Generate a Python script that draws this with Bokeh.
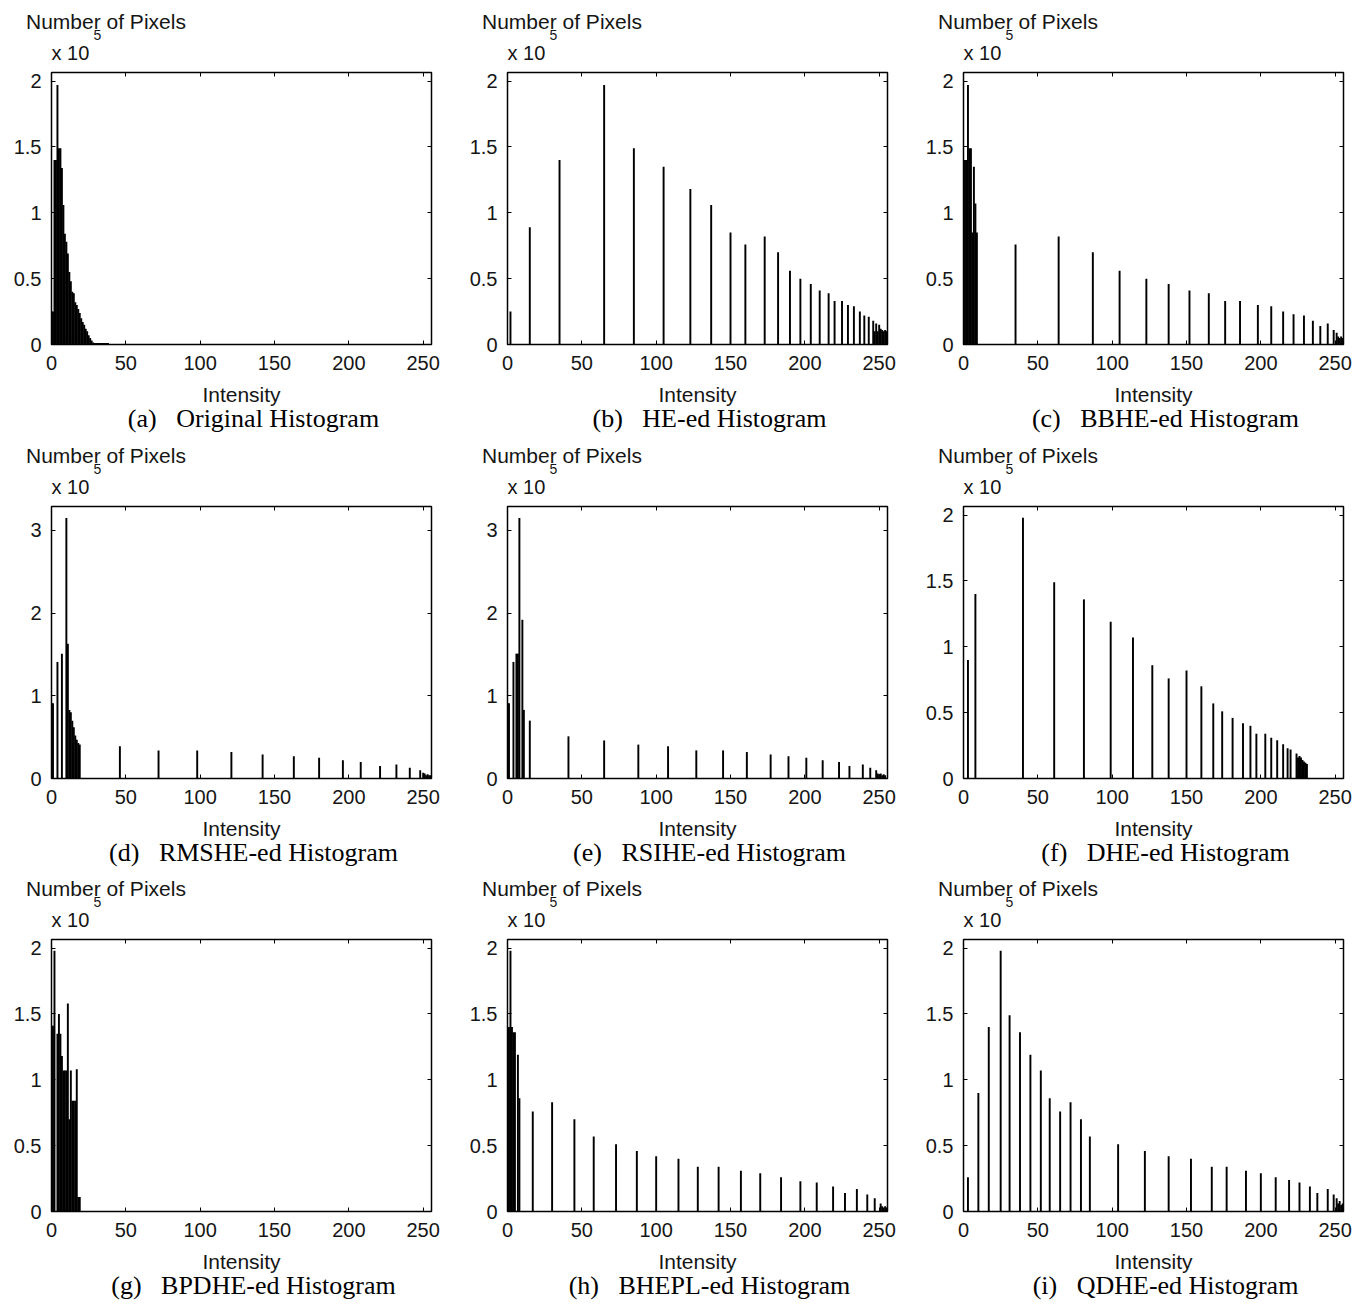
from bokeh.plotting import figure
from bokeh.models import (Range1d, FixedTicker, LinearAxis, Title,
                          CustomJSTickFormatter, ColumnDataSource)
from bokeh.layouts import gridplot
from bokeh.embed import file_html
from bokeh.resources import INLINE

# ---------------- data (pixel counts in units of 10^5) ----------------
x_ticks = [0, 50, 100, 150, 200, 250]
y_ticks_2 = [0, 0.5, 1, 1.5, 2]
y_ticks_3 = [0, 1, 2, 3]

orig_x = list(range(0, 39))
orig_y = [0.25, 0.25, 1.40, 1.40, 1.97, 1.49, 1.49, 1.34, 1.06, 0.84,
          0.78, 0.69, 0.55, 0.48, 0.40, 0.39, 0.32, 0.30, 0.27, 0.24,
          0.20, 0.17, 0.15, 0.12, 0.10, 0.07, 0.05, 0.03, 0.015, 0.012,
          0.012, 0.012, 0.012, 0.012, 0.012, 0.012, 0.012, 0.012, 0.012]

he_x = [2, 15, 35, 65, 85, 105, 123, 137, 150, 160, 173, 182, 190, 197, 204,
        210, 216, 220, 225, 229, 233, 237, 240, 243, 246, 247, 248, 249, 250,
        251, 252, 253, 254, 255]
he_y = [0.25, 0.89, 1.40, 1.97, 1.49, 1.35, 1.18, 1.06, 0.85, 0.76, 0.82, 0.70,
        0.56, 0.50, 0.46, 0.41, 0.39, 0.33, 0.33, 0.30, 0.29, 0.25, 0.22, 0.21,
        0.18, 0.10, 0.16, 0.10, 0.15, 0.12, 0.11, 0.10, 0.11, 0.10]

bbhe_x = [0, 1, 2, 3, 4, 5, 6, 7, 8, 9, 35, 64, 87, 105, 123, 138, 152, 165,
          176, 186, 198, 207, 215, 222, 229, 235, 240, 245, 249, 251, 252, 253,
          254, 255]
bbhe_y = [1.40, 1.40, 1.40, 1.97, 1.49, 1.49, 0.85, 1.35, 1.07, 0.85, 0.76,
          0.82, 0.70, 0.56, 0.50, 0.46, 0.41, 0.39, 0.33, 0.33, 0.30, 0.29,
          0.25, 0.23, 0.22, 0.18, 0.14, 0.16, 0.11, 0.09, 0.06, 0.05, 0.06, 0.05]

rmshe_x = [0, 1, 4, 7, 10, 11, 12, 13, 14, 15, 16, 17, 18, 19, 46, 72, 98, 121,
           142, 163, 180, 196, 208, 221, 232, 241, 248, 250, 251, 252, 253, 254,
           255]
rmshe_y = [0.91, 0.91, 1.41, 1.51, 3.15, 1.63, 0.83, 0.80, 0.70, 0.62, 0.52,
           0.47, 0.43, 0.41, 0.39, 0.34, 0.34, 0.32, 0.29, 0.27, 0.25, 0.22,
           0.20, 0.15, 0.17, 0.13, 0.10, 0.07, 0.06, 0.04, 0.05, 0.04, 0.04]

rsihe_x = [0, 1, 4, 6, 7, 8, 10, 11, 15, 41, 65, 88, 108, 127, 145, 161, 177,
           189, 201, 212, 223, 230, 239, 244, 248, 249, 250, 251, 252, 253, 254]
rsihe_y = [0.91, 0.91, 1.41, 1.51, 1.51, 3.15, 1.92, 0.83, 0.70, 0.51, 0.46,
           0.41, 0.39, 0.34, 0.34, 0.32, 0.29, 0.27, 0.25, 0.22, 0.20, 0.15,
           0.17, 0.13, 0.10, 0.06, 0.05, 0.06, 0.04, 0.05, 0.04]

dhe_x = [3, 8, 40, 61, 81, 99, 114, 127, 138, 150, 160, 168, 174, 181, 188, 193,
         197, 203, 207, 211, 215, 218, 220, 224, 225, 226, 227, 228, 229, 230,
         231]
dhe_y = [0.90, 1.40, 1.98, 1.49, 1.36, 1.19, 1.07, 0.86, 0.76, 0.82, 0.70,
         0.57, 0.51, 0.46, 0.42, 0.40, 0.34, 0.34, 0.31, 0.29, 0.26, 0.23,
         0.22, 0.19, 0.16, 0.17, 0.16, 0.14, 0.13, 0.12, 0.11]

bpdhe_x = list(range(0, 20))
bpdhe_y = [1.41, 1.41, 1.98, 0.0, 1.35, 1.50, 1.35, 1.18, 1.07, 1.07, 1.07,
           1.58, 0.70, 1.07, 0.84, 0.84, 0.84, 1.08, 0.11, 0.11]

bhepl_x = [0, 1, 2, 3, 4, 5, 7, 8, 17, 30, 45, 58, 73, 87, 100, 115, 128, 142,
           157, 170, 184, 197, 208, 219, 227, 235, 242, 247, 251, 252, 253, 254,
           255]
bhepl_y = [1.40, 1.40, 1.98, 1.40, 1.36, 1.36, 1.19, 0.86, 0.76, 0.83, 0.70,
           0.57, 0.51, 0.46, 0.42, 0.40, 0.34, 0.34, 0.31, 0.29, 0.26, 0.23,
           0.22, 0.19, 0.14, 0.17, 0.13, 0.10, 0.06, 0.04, 0.03, 0.04, 0.03]

qdhe_x = [3, 10, 17, 25, 31, 38, 45, 52, 58, 65, 72, 79, 85, 104, 122, 138, 153,
          167, 177, 190, 200, 210, 219, 226, 233, 238, 245, 249, 251, 252, 253,
          254, 255]
qdhe_y = [0.26, 0.90, 1.40, 1.98, 1.49, 1.36, 1.19, 1.07, 0.86, 0.76, 0.83,
          0.70, 0.57, 0.51, 0.46, 0.42, 0.40, 0.34, 0.34, 0.31, 0.29, 0.26,
          0.24, 0.22, 0.19, 0.14, 0.17, 0.13, 0.10, 0.06, 0.08, 0.05, 0.06]

letters = ["(a)", "(b)", "(c)", "(d)", "(e)", "(f)", "(g)", "(h)", "(i)"]
names = ["Original Histogram", "HE-ed Histogram", "BBHE-ed Histogram",
         "RMSHE-ed Histogram", "RSIHE-ed Histogram", "DHE-ed Histogram",
         "BPDHE-ed Histogram", "BHEPL-ed Histogram", "QDHE-ed Histogram"]
y_label = "Number of Pixels"
x_label = "Intensity"
exp_base = "x 10"
exp_power = "5"

panels = [
    (orig_x, orig_y, 2.065, y_ticks_2),
    (he_x, he_y, 2.065, y_ticks_2),
    (bbhe_x, bbhe_y, 2.065, y_ticks_2),
    (rmshe_x, rmshe_y, 3.29, y_ticks_3),
    (rsihe_x, rsihe_y, 3.29, y_ticks_3),
    (dhe_x, dhe_y, 2.065, y_ticks_2),
    (bpdhe_x, bpdhe_y, 2.065, y_ticks_2),
    (bhepl_x, bhepl_y, 2.065, y_ticks_2),
    (qdhe_x, qdhe_y, 2.065, y_ticks_2),
]

# ---------------- layout / style ----------------
SANS = "Liberation Sans"
SERIF = "Liberation Serif"
TXT = "#151515"
FRAME_W = 380
FRAME_H = 272
TOP = 72
CAPTION_PX = 26
col_left = [51, 50, 50]
col_right = [26, 26, 19]
row_bottom = [90, 89, 90]

# approximate Times advance widths (em) used only to place the captions
_times_w = {"(": .333, ")": .333, " ": .25, "\u00a0": .25, "-": .333,
            "a": .444, "b": .5, "c": .444, "d": .5, "e": .444, "f": .333,
            "g": .5, "h": .5, "i": .278, "l": .278, "m": .778, "n": .5,
            "o": .5, "r": .333, "s": .389, "t": .278,
            "B": .667, "D": .722, "E": .611, "H": .722, "I": .333, "L": .611,
            "M": .889, "O": .722, "P": .556, "Q": .722, "R": .667, "S": .556}


def caption_width(text):
    return sum(_times_w.get(ch, .5) for ch in text) * CAPTION_PX


def style_axis(ax, standoff, show_labels=True):
    ax.axis_line_color = None
    ax.major_tick_in = 4
    ax.major_tick_out = 0
    ax.major_tick_line_color = "black"
    ax.major_tick_line_width = 1
    ax.minor_tick_line_color = None
    ax.major_label_standoff = standoff
    ax.major_label_text_font = SANS
    ax.major_label_text_font_size = "20px"
    ax.major_label_text_color = TXT
    if not show_labels:
        ax.formatter = CustomJSTickFormatter(code="return ''")
        ax.major_label_text_font_size = "1px"
        ax.major_label_standoff = 0


def title(text, size, font, align="left", offset=0, standoff=0, color=TXT):
    return Title(text=text, text_font=font, text_font_size=size,
                 text_font_style="normal", text_color=color, align=align,
                 offset=offset, standoff=standoff)


def make_panel(idx):
    xs, ys, ymax, yticks = panels[idx]
    row, col = divmod(idx, 3)
    w = col_left[col] + FRAME_W + col_right[col]
    h = TOP + FRAME_H + row_bottom[row]
    p = figure(width=w, height=h, output_backend="svg", toolbar_location=None,
               x_range=Range1d(0, 255.6), y_range=Range1d(0, ymax),
               min_border_left=col_left[col], min_border_right=col_right[col],
               min_border_top=TOP, min_border_bottom=row_bottom[row])
    p.title.visible = False
    p.background_fill_color = "white"
    p.border_fill_color = "white"
    p.outline_line_color = "black"
    p.outline_line_width = 1.5
    p.xgrid.visible = False
    p.ygrid.visible = False

    src = ColumnDataSource(data=dict(x=xs, top=ys))
    p.vbar(x="x", top="top", bottom=0, width=1.3, source=src,
           fill_color="black", line_color=None)

    p.xaxis.ticker = FixedTicker(ticks=x_ticks)
    p.yaxis.ticker = FixedTicker(ticks=yticks)
    p.yaxis.formatter = CustomJSTickFormatter(code="return String(tick)")
    style_axis(p.xaxis[0], 11)
    style_axis(p.yaxis[0], 10)
    p.xaxis.axis_label = x_label
    p.xaxis.axis_label_text_font = SANS
    p.xaxis.axis_label_text_font_size = "21px"
    p.xaxis.axis_label_text_font_style = "normal"
    p.xaxis.axis_label_text_color = TXT
    p.xaxis.axis_label_standoff = 10

    top_ax = LinearAxis(ticker=FixedTicker(ticks=x_ticks))
    style_axis(top_ax, 0, show_labels=False)
    p.add_layout(top_ax, "above")
    right_ax = LinearAxis(ticker=FixedTicker(ticks=yticks))
    style_axis(right_ax, 0, show_labels=False)
    p.add_layout(right_ax, "right")

    # texts above the frame (innermost first)
    p.add_layout(title(exp_base, "20px", SANS, offset=0, standoff=18), "above")
    p.add_layout(title(exp_power, "14px", SANS, offset=42, standoff=-18), "above")
    p.add_layout(title(y_label, "21px", SANS, offset=-25.5, standoff=-4), "above")

    # caption below, centred a little right of the frame centre
    cap = letters[idx] + "\u00a0\u00a0 " + names[idx]
    cap_off = FRAME_W / 2 + 12 - caption_width(cap) / 2
    p.add_layout(title(cap, f"{CAPTION_PX}px", SERIF, align="left",
                       offset=cap_off, standoff=-14, color="black"), "below")
    return p


figs = [make_panel(i) for i in range(9)]
grid = gridplot([figs[0:3], figs[3:6], figs[6:9]], toolbar_location=None)

open("out.html", "w").write(file_html(grid, INLINE))
